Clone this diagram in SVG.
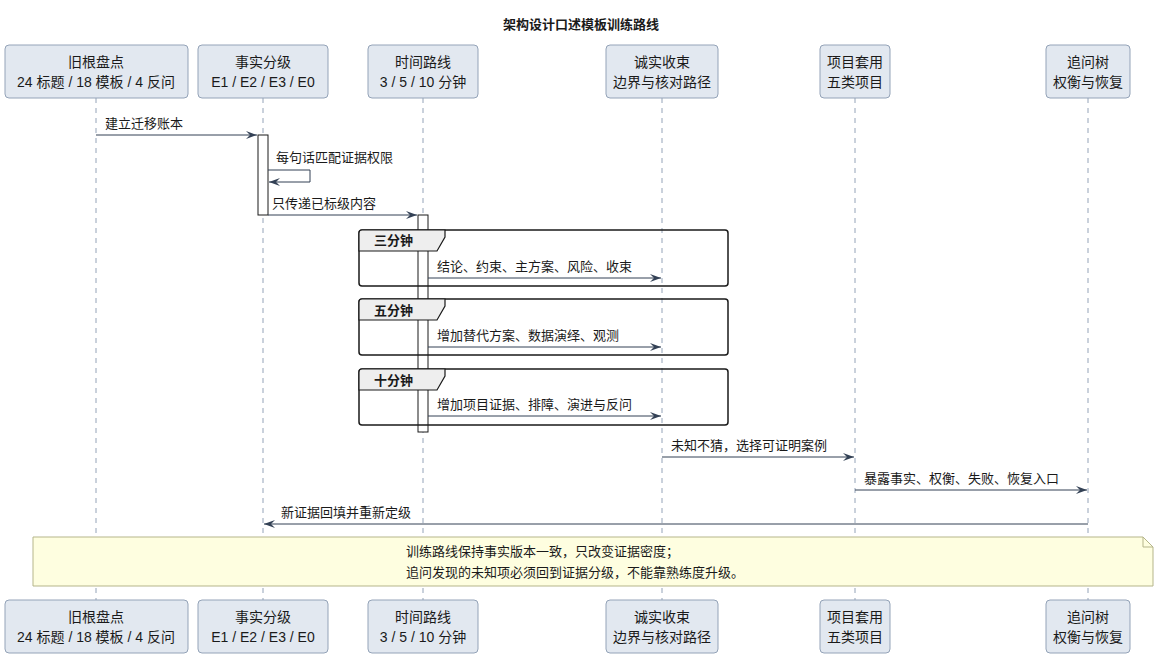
<svg xmlns="http://www.w3.org/2000/svg" width="1162" height="660" viewBox="0 0 1162 660">
<style>
text{font-family:"Liberation Sans","Noto Sans CJK SC",sans-serif;font-size:13px;fill:#1a1a1a}
.p rect{fill:#e2e8f0;stroke:#94a3b8;stroke-width:1}
.p text{text-anchor:middle;font-size:14px}
.ll{stroke:#94a3b8;stroke-dasharray:5 5;stroke-width:1}
.m{stroke:#334155;stroke-width:1;fill:none}
.act{fill:#fff;stroke:#1a1a1a;stroke-width:1}
.grp{fill:none;stroke:#1a1a1a;stroke-width:1.5}
.tab{fill:#eeeeee;stroke:#1a1a1a;stroke-width:1.2}
.gt{font-weight:bold}
</style>
<defs><marker id="a" markerWidth="12" markerHeight="10" refX="11" refY="5" orient="auto" markerUnits="userSpaceOnUse"><path d="M0,1 L11,5 L0,9 L4,5 Z" fill="#334155"/></marker></defs>
<rect width="1162" height="660" fill="#fff"/>
<text x="581" y="29" text-anchor="middle" font-weight="bold">架构设计口述模板训练路线</text>
<g id="lifelines">
<line class="ll" x1="96" y1="98" x2="96" y2="600"/><line class="ll" x1="263" y1="98" x2="263" y2="600"/><line class="ll" x1="423" y1="98" x2="423" y2="600"/><line class="ll" x1="662" y1="98" x2="662" y2="600"/><line class="ll" x1="855" y1="98" x2="855" y2="600"/><line class="ll" x1="1088" y1="98" x2="1088" y2="600"/>
</g>
<g id="p1" class="p"><rect x="5" y="45" width="183" height="53" rx="4"/><text x="96" y="67">旧根盘点</text><text x="96" y="87">24 标题 / 18 模板 / 4 反问</text></g>
<g id="p2" class="p"><rect x="198" y="45" width="130" height="53" rx="4"/><text x="263" y="67">事实分级</text><text x="263" y="87">E1 / E2 / E3 / E0</text></g>
<g id="p3" class="p"><rect x="368" y="45" width="110" height="53" rx="4"/><text x="423" y="67">时间路线</text><text x="423" y="87">3 / 5 / 10 分钟</text></g>
<g id="p4" class="p"><rect x="606" y="45" width="112" height="53" rx="4"/><text x="662" y="67">诚实收束</text><text x="662" y="87">边界与核对路径</text></g>
<g id="p5" class="p"><rect x="820" y="45" width="70" height="53" rx="4"/><text x="855" y="67">项目套用</text><text x="855" y="87">五类项目</text></g>
<g id="p6" class="p"><rect x="1046" y="45" width="84" height="53" rx="4"/><text x="1088" y="67">追问树</text><text x="1088" y="87">权衡与恢复</text></g>
<g id="p1b" class="p"><rect x="5" y="600" width="183" height="53" rx="4"/><text x="96" y="622">旧根盘点</text><text x="96" y="642">24 标题 / 18 模板 / 4 反问</text></g>
<g id="p2b" class="p"><rect x="198" y="600" width="130" height="53" rx="4"/><text x="263" y="622">事实分级</text><text x="263" y="642">E1 / E2 / E3 / E0</text></g>
<g id="p3b" class="p"><rect x="368" y="600" width="110" height="53" rx="4"/><text x="423" y="622">时间路线</text><text x="423" y="642">3 / 5 / 10 分钟</text></g>
<g id="p4b" class="p"><rect x="606" y="600" width="112" height="53" rx="4"/><text x="662" y="622">诚实收束</text><text x="662" y="642">边界与核对路径</text></g>
<g id="p5b" class="p"><rect x="820" y="600" width="70" height="53" rx="4"/><text x="855" y="622">项目套用</text><text x="855" y="642">五类项目</text></g>
<g id="p6b" class="p"><rect x="1046" y="600" width="84" height="53" rx="4"/><text x="1088" y="622">追问树</text><text x="1088" y="642">权衡与恢复</text></g>
<g id="activations">
<rect class="act" x="258" y="135" width="10" height="80"/>
<rect class="act" x="418" y="215" width="10" height="217"/>
</g>
<g id="groups">
<rect class="grp" x="359" y="230" width="369" height="56" rx="3"/><path class="tab" d="M359,233 Q359,230 362,230 L445,230 L445,237 L437,251 L359,251 Z"/><text class="gt" x="374" y="245">三分钟</text>
<rect class="grp" x="359" y="299" width="369" height="56" rx="3"/><path class="tab" d="M359,302 Q359,299 362,299 L445,299 L445,306 L437,320 L359,320 Z"/><text class="gt" x="374" y="315">五分钟</text>
<rect class="grp" x="359" y="369" width="369" height="56" rx="3"/><path class="tab" d="M359,372 Q359,369 362,369 L445,369 L445,376 L437,390 L359,390 Z"/><text class="gt" x="374" y="385">十分钟</text>
</g>
<g id="connectors">
<line class="m" x1="96" y1="135" x2="257" y2="135" marker-end="url(#a)"/><text x="105" y="128">建立迁移账本</text>
<polyline class="m" points="268,170 310,170 310,182 269,182" marker-end="url(#a)"/><text x="276" y="162">每句话匹配证据权限</text>
<line class="m" x1="268" y1="215" x2="417" y2="215" marker-end="url(#a)"/><text x="272" y="208">只传递已标级内容</text>
<line class="m" x1="428" y1="278" x2="661" y2="278" marker-end="url(#a)"/><text x="437" y="271">结论、约束、主方案、风险、收束</text>
<line class="m" x1="428" y1="347" x2="661" y2="347" marker-end="url(#a)"/><text x="437" y="340">增加替代方案、数据演绎、观测</text>
<line class="m" x1="428" y1="416" x2="661" y2="416" marker-end="url(#a)"/><text x="437" y="409">增加项目证据、排障、演进与反问</text>
<line class="m" x1="662" y1="457" x2="854" y2="457" marker-end="url(#a)"/><text x="671" y="450">未知不猜，选择可证明案例</text>
<line class="m" x1="855" y1="490" x2="1087" y2="490" marker-end="url(#a)"/><text x="864" y="483">暴露事实、权衡、失败、恢复入口</text>
<line class="m" x1="1088" y1="524" x2="264" y2="524" marker-end="url(#a)"/><text x="281" y="517">新证据回填并重新定级</text>
</g>
<g id="note">
<path d="M33,537 L1143,537 L1153,547 L1153,586 L33,586 Z" fill="#fefee0" stroke="#b5b58a"/>
<path d="M1143,537 L1143,547 L1153,547" fill="none" stroke="#b5b58a"/>
<text x="406" y="556">训练路线保持事实版本一致，只改变证据密度；</text>
<text x="406" y="577">追问发现的未知项必须回到证据分级，不能靠熟练度升级。</text>
</g>
</svg>
